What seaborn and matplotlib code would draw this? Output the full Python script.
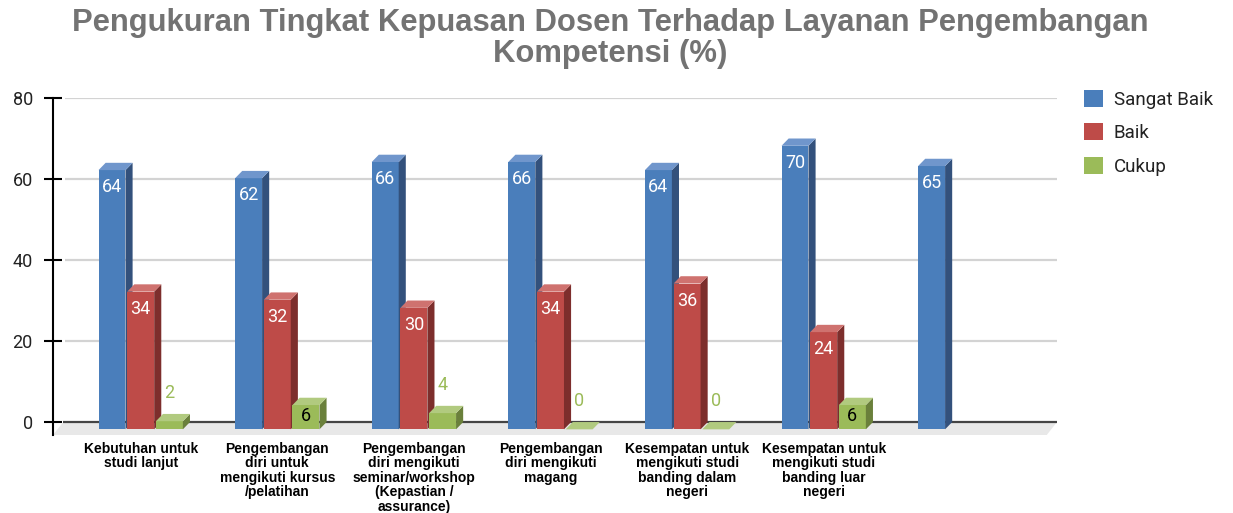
import numpy as np
import pandas as pd
import matplotlib
matplotlib.use("Agg")
import matplotlib.pyplot as plt
import seaborn as sns
from matplotlib.patches import Polygon, Patch

# data
judul = "Pengukuran Tingkat Kepuasan Dosen Terhadap Layanan Pengembangan\nKompetensi (%)"
kategori = [
    "Kebutuhan untuk\nstudi lanjut",
    "Pengembangan\ndiri untuk\nmengikuti kursus\n/pelatihan",
    "Pengembangan\ndiri mengikuti\nseminar/workshop\n(Kepastian /\nassurance)",
    "Pengembangan\ndiri mengikuti\nmagang",
    "Kesempatan untuk\nmengikuti studi\nbanding dalam\nnegeri",
    "Kesempatan untuk\nmengikuti studi\nbanding luar\nnegeri",
    " ",
]
seri = ["Sangat Baik", "Baik", "Cukup"]
sangat_baik = [64, 62, 66, 66, 64, 70, 65]
baik = [34, 32, 30, 34, 36, 24, np.nan]
cukup = [2, 6, 4, 0, 0, 6, np.nan]
y_ticks = [0, 20, 40, 60, 80]

# warna: depan, samping, atas
warna_depan = ["#4a7ebb", "#be4b48", "#9bbb59"]
warna_samping = ["#33517c", "#7d2e2c", "#6a803b"]
warna_atas = ["#7096cc", "#cf726f", "#b1ca7f"]

rows = []
for nama, nilai in zip(seri, [sangat_baik, baik, cukup]):
    for kat, v in zip(kategori, nilai):
        if not np.isnan(v):
            rows.append({"kategori": kat, "seri": nama, "nilai": v})
df = pd.DataFrame(rows)

sns.set_style("white")
plt.rcParams["font.family"] = ["Liberation Sans", "DejaVu Sans"]

fig = plt.figure(figsize=(12.33, 5.13), dpi=100)
ax = fig.add_axes([53 / 1233, 78 / 513, 1004 / 1233, 337 / 513])

sns.barplot(data=df, x="kategori", y="nilai", hue="seri", order=kategori,
            hue_order=seri, palette=warna_depan, width=0.63, gap=0.06,
            errorbar=None, legend=False, saturation=1, linewidth=0, ax=ax)

x_kiri, x_kanan = -0.642, 6.708
y_bawah = -3.2
ax.set_xlim(x_kiri, x_kanan)
ax.set_ylim(y_bawah, 80)

# efek 3D
d = 1.8       # turun muka depan (unit data)
dx = 0.052    # geser kedalaman (unit kategori)
bars = []
for k, cont in enumerate(ax.containers):
    for rect in cont:
        h = rect.get_height()
        if np.isnan(h):
            continue
        bars.append((rect.get_x(), k, rect, h))
bars.sort(key=lambda b: b[0])

for i, (x0, k, rect, h) in enumerate(bars):
    z = 3 + i * 0.01
    w = rect.get_width()
    x1 = x0 + w
    rect.set_y(-d)
    rect.set_zorder(z)
    samping = Polygon([(x1, -d), (x1 + dx, 0), (x1 + dx, h), (x1, h - d)],
                      closed=True, facecolor=warna_samping[k], edgecolor="none", zorder=z + 0.001)
    atas = Polygon([(x0, h - d), (x1, h - d), (x1 + dx, h), (x0 + dx, h)],
                   closed=True, facecolor=warna_atas[k], edgecolor="none", zorder=z + 0.002)
    ax.add_patch(samping)
    ax.add_patch(atas)

    xc = x0 + w / 2
    teks = f"{h:.0f}"
    if k < 2:
        ax.text(xc, h - 6, teks, ha="center", va="center", color="white",
                fontsize=13, family="Roboto", zorder=10)
    elif h < 5:
        ax.text(xc, h + 5.1, teks, ha="center", va="center", color=warna_depan[2],
                fontsize=13, family="Roboto", zorder=10)
    else:
        ax.text(xc, h - 4.5, teks, ha="center", va="center", color="black",
                fontsize=13, family="Roboto", zorder=10)

# lantai abu-abu dan garis grid
miring = 0.075
lantai = Polygon([(x_kiri + miring, 0), (x_kanan, 0), (x_kanan - miring, y_bawah), (x_kiri, y_bawah)],
                 closed=True, facecolor="#e8e8e8", edgecolor="none", zorder=1)
ax.add_patch(lantai)
ax.hlines([20, 40, 60, 80], x_kiri + 0.09, x_kanan, colors="#d3d3d3", linewidth=1.6, zorder=0.5)
ax.hlines([0], x_kiri + 0.07, x_kanan, colors="#444444", linewidth=1.6, zorder=2)

# sumbu
for s in ["top", "right", "bottom"]:
    ax.spines[s].set_visible(False)
ax.spines["left"].set_color("black")
ax.spines["left"].set_linewidth(1.5)
ax.set_yticks(y_ticks)
ax.tick_params(axis="y", left=True, direction="inout", length=13, width=1.5, color="black",
               labelsize=13, labelcolor="#222222", pad=8)
for lbl in ax.get_yticklabels():
    lbl.set_family("Roboto")
ax.tick_params(axis="x", bottom=False, length=0, pad=5)
ax.set_xticks(range(len(kategori)))
ax.set_xticklabels(kategori, fontsize=10, fontweight="bold", color="black", linespacing=1.04)
ax.set_xlabel("")
ax.set_ylabel("")
ax.grid(False)

fig.text(610 / 1233, 1 - 8 / 513, judul, ha="center", va="top", fontsize=22.3,
         fontweight="bold", color="#737373", linespacing=1.05)

handles = [Patch(facecolor=c, edgecolor="none") for c in warna_depan]
fig.legend(handles, seri, loc="upper left", bbox_to_anchor=(1067 / 1233, 1 - 73 / 513),
           frameon=False, prop={"family": "Roboto", "size": 13.5}, labelcolor="#222222",
           handlelength=1.0, handleheight=1.0, handletextpad=0.6, labelspacing=0.78)

fig.savefig("out.png", dpi=100)
